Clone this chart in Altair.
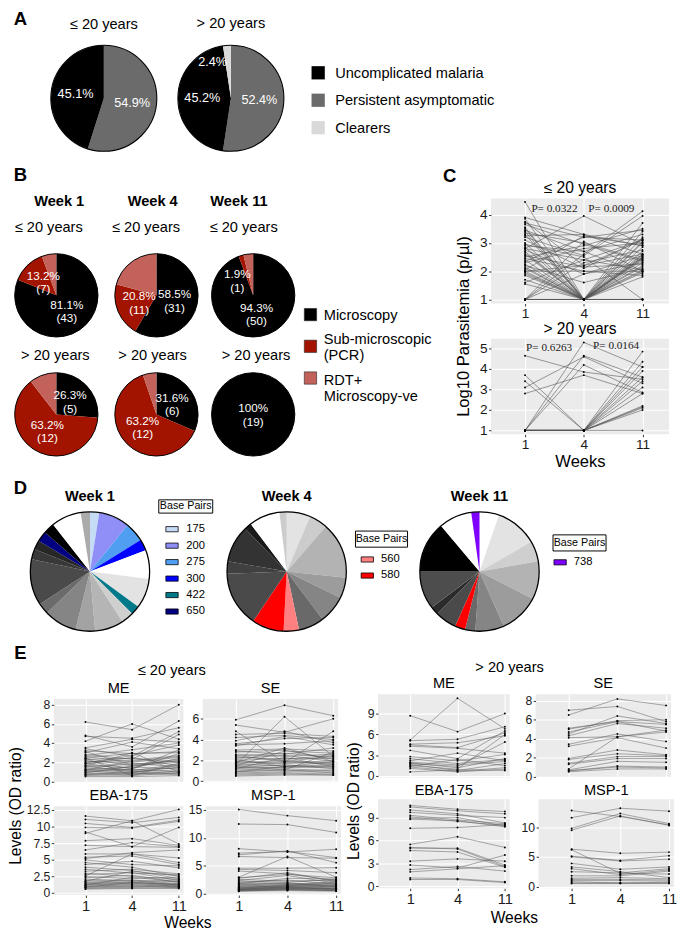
import altair as alt
import pandas as pd

S = 0.972
FONT = "Liberation Sans"
SERIF = "Liberation Serif"


def s(v):
    return round(v * S, 2)


# ======================= DATA =======================
# ---- Panel A (slices listed clockwise from 12 o'clock) ----
A_slice_cats = ["Persistent asymptomatic", "Uncomplicated malaria", "Clearers"]
A_slice_colors = ["#6b6b6b", "#000000", "#d9d9d9"]
A_le20_pct = [54.9, 45.1, 0.0]
A_gt20_pct = [52.4, 45.2, 2.4]
A_legend_items = ["Uncomplicated malaria", "Persistent asymptomatic", "Clearers"]
A_legend_colors = ["#000000", "#6b6b6b", "#d9d9d9"]

# ---- Panel B ----
B_cats = ["Microscopy", "Sub-microscopic (PCR)", "RDT+ Microscopy-ve"]
B_legend_labels = ["Microscopy", "Sub-microscopic\n(PCR)", "RDT+\nMicroscopy-ve"]
B_colors = ["#000000", "#a31400", "#c2625a"]
B_weeks = ["Week 1", "Week 4", "Week 11"]
B_le20_counts = [[43, 7, 3], [31, 11, 11], [50, 1, 2]]
B_gt20_counts = [[5, 12, 2], [6, 12, 1], [19, 0, 0]]

# ---- Panel C: Log10 parasitemia (week 1, week 4, week 11) per participant ----
C_le20 = [(4.45, 1.0, 2.5), (3.9, 3.3, 2.9), (3.75, 2.2, 3.1), (3.7, 3.2, 3.45), (3.5, 1.0, 3.0),
          (3.45, 2.7, 1.9), (3.35, 3.0, 2.4), (3.3, 1.0, 2.6), (3.2, 2.55, 3.95), (3.1, 2.1, 3.15),
          (2.85, 1.0, 2.55), (2.8, 3.95, 2.95), (2.8, 2.4, 2.05), (2.75, 1.9, 2.3), (2.6, 1.0, 2.0),
          (2.5, 2.9, 3.5), (2.45, 2.0, 1.85), (2.4, 1.0, 2.45), (2.3, 2.8, 3.0), (2.2, 1.6, 2.1),
          (2.1, 1.0, 2.5), (2.05, 3.25, 2.9), (2.0, 1.0, 1.8), (2.0, 2.2, 2.6), (1.9, 1.0, 3.7),
          (1.6, 2.4, 3.1), (1.55, 1.0, 2.2), (1.0, 3.05, 2.0), (1.0, 2.6, 4.12), (1.0, 1.0, 3.2),
          (1.0, 1.9, 2.55), (1.0, 1.0, 1.0), (3.85, 1.0, 1.0), (3.65, 2.95, 2.35), (3.0, 1.0, 2.7),
          (2.65, 1.0, 1.95), (2.35, 3.2, 3.1), (2.15, 1.0, 1.0), (1.85, 1.0, 2.4), (2.55, 2.15, 2.25),
          (3.55, 1.0, 3.4), (2.95, 2.5, 1.0), (2.25, 1.0, 2.85), (1.7, 1.0, 2.05), (1.0, 1.0, 2.3),
          (3.25, 3.3, 2.6), (2.7, 1.0, 3.05), (2.0, 2.0, 2.0), (1.0, 2.3, 2.75), (3.4, 1.0, 2.15),
          (2.9, 2.7, 3.3), (1.95, 1.0, 1.0), (1.0, 1.0, 2.45)]
C_gt20 = [(4.65, 3.85, 3.5), (3.7, 1.0, 2.8), (3.4, 1.0, 3.4), (3.1, 4.6, 3.3), (2.8, 3.7, 2.8),
          (1.0, 5.3, 4.1), (1.0, 4.65, 3.6), (1.0, 4.2, 2.85), (1.0, 1.0, 4.85), (1.0, 1.0, 4.35),
          (1.0, 1.0, 4.1), (1.0, 1.0, 3.9), (1.0, 1.0, 3.1), (1.0, 1.0, 2.2), (1.0, 1.0, 2.15),
          (1.0, 1.0, 2.1), (1.0, 1.0, 2.0), (1.0, 1.0, 3.6), (1.0, 1.0, 1.0)]
C_le20_pvalues = [(0.5, 4.21, "P= 0.0322"), (1.47, 4.19, "P= 0.0009")]
C_gt20_pvalues = [(0.41, 5.0, "P= 0.6263"), (1.55, 5.1, "P= 0.0164")]
C_le20_yticks = [1, 2, 3, 4]
C_gt20_yticks = [1, 2, 3, 4, 5]

# ---- Panel D: allele fractions (degrees, clockwise from 12 o'clock) ----
D_w1_cats = ["175", "200", "275", "300", "a1", "a2", "422", "a3", "a4", "a5", "a6", "a7", "a8",
             "a9", "a10", "650", "a11", "a12", "a13"]
D_w1_deg = [9, 30, 19, 11, 28, 29, 9, 12, 28, 19, 32, 11, 45, 10, 9, 10, 11, 29, 9]
D_w1_colors = ["#c6dbf5", "#8f8ff7", "#4f9ef2", "#0000ff", "#ffffff", "#e3e3e3", "#007a8a", "#cfcfcf",
               "#b5b5b5", "#a3a3a3", "#858585", "#6b6b6b", "#4a4a4a", "#383838", "#262626", "#000080",
               "#000000", "#ffffff", "#ababab"]
D_w4_cats = ["b1", "b2", "b3", "b4", "b5", "b6", "560", "580", "b7", "b8", "b9", "b10", "b11", "b12"]
D_w4_deg = [23, 18, 55, 20, 27, 25, 15, 31, 54, 12, 36, 7, 30, 7]
D_w4_colors = ["#e3e3e3", "#cccccc", "#b3b3b3", "#9c9c9c", "#858585", "#696969", "#ff8080", "#ff0000",
               "#4a4a4a", "#404040", "#333333", "#1a1a1a", "#ffffff", "#cccccc"]
D_w11_cats = ["c1", "c2", "c3", "c4", "c5", "c6", "c7", "580", "c8", "c9", "c10", "c11", "c12", "738"]
D_w11_deg = [19, 41, 20, 37, 39, 28, 10, 10, 21, 8, 37, 50, 32, 8]
D_w11_colors = ["#ffffff", "#e3e3e3", "#cfcfcf", "#b3b3b3", "#9c9c9c", "#858585", "#696969", "#ff0000",
                "#4a4a4a", "#2b2b2b", "#4d4d4d", "#000000", "#ffffff", "#7f00ff"]
D_leg1_items = ["175", "200", "275", "300", "422", "650"]
D_leg1_colors = ["#c6dbf5", "#8f8ff7", "#4f9ef2", "#0000ff", "#007a8a", "#000080"]
D_leg4_items = ["560", "580"]
D_leg4_colors = ["#ff8080", "#ff0000"]
D_leg11_items = ["738"]
D_leg11_colors = ["#7f00ff"]

# ---- Panel E: antibody levels (OD ratio) at weeks 1, 4, 11 ----
E_ME_le20 = [(6.2, 5.4, 8.0), (4.8, 3.6, 6.3), (4.7, 4.5, 5.6), (4.2, 6.0, 4.4), (3.5, 4.4, 4.1),
             (3.4, 2.6, 5.2), (3.2, 2.9, 3.0), (3.0, 4.1, 3.4), (2.8, 2.3, 4.9), (2.6, 2.0, 2.5),
             (2.5, 2.9, 3.1), (2.4, 1.6, 2.2), (2.3, 2.4, 2.0), (2.2, 1.3, 2.9), (2.1, 1.9, 1.5),
             (2.0, 2.2, 2.7), (1.9, 1.1, 1.8), (1.8, 2.5, 1.6), (1.7, 1.4, 2.4), (1.6, 1.0, 1.2),
             (1.5, 1.8, 2.1), (1.4, 1.2, 1.0), (1.3, 0.9, 1.7), (1.2, 1.5, 1.3), (1.1, 0.8, 0.9),
             (1.0, 1.2, 1.4), (0.9, 0.7, 1.1), (0.8, 1.0, 0.8), (0.7, 0.6, 0.9), (0.6, 0.8, 0.7),
             (0.5, 0.5, 0.6), (2.7, 3.3, 4.0), (1.9, 2.7, 3.8), (1.2, 2.1, 2.6), (0.9, 1.6, 2.0),
             (2.4, 0.6, 1.9), (3.1, 1.7, 2.3), (1.6, 3.0, 1.0), (1.1, 1.3, 3.3), (0.7, 0.9, 1.5)]
E_SE_le20 = [(5.9, 7.3, 6.3), (5.4, 4.7, 6.0), (4.8, 1.8, 4.8), (4.5, 4.6, 4.3), (4.2, 4.4, 4.0),
             (3.9, 4.8, 3.7), (3.6, 4.1, 4.2), (3.5, 3.6, 3.9), (3.4, 4.3, 3.5), (3.0, 3.1, 2.9),
             (2.9, 2.6, 3.2), (2.8, 3.0, 2.1), (2.6, 2.4, 2.6), (2.4, 2.7, 2.3), (2.3, 2.1, 2.5),
             (2.2, 2.5, 1.9), (2.0, 2.2, 2.2), (1.9, 1.7, 2.0), (1.8, 2.0, 1.6), (1.7, 1.9, 1.8),
             (1.6, 6.2, 2.4), (1.6, 1.5, 1.4), (1.5, 1.8, 1.7), (1.4, 1.3, 1.5), (1.3, 1.6, 1.2),
             (1.2, 1.4, 1.3), (1.1, 1.2, 1.0), (1.0, 1.0, 1.1), (0.9, 1.1, 0.8), (0.8, 0.9, 0.9),
             (0.7, 0.8, 0.7), (0.6, 0.7, 0.6), (0.5, 0.6, 0.6), (1.5, 2.9, 2.7), (1.8, 3.2, 1.9),
             (2.1, 1.4, 1.6), (1.2, 2.3, 1.4), (0.9, 1.4, 1.9), (1.4, 1.1, 2.8), (2.5, 1.9, 2.4)]
E_EBA_le20 = [(11.6, 10.9, 12.6), (11.1, 10.6, 11.4), (10.5, 9.9, 11.0), (9.9, 9.8, 10.8), (9.2, 7.0, 9.9),
              (9.0, 10.9, 7.4), (7.9, 8.2, 7.2), (7.2, 7.0, 6.9), (6.5, 7.6, 7.0), (5.9, 5.9, 4.6),
              (5.4, 5.6, 4.3), (5.2, 6.1, 6.5), (5.0, 4.3, 4.1), (4.6, 3.9, 2.5), (4.3, 4.8, 3.8),
              (3.9, 3.4, 2.2), (3.6, 3.0, 2.8), (3.3, 3.6, 2.9), (3.0, 2.5, 2.1), (2.8, 3.1, 1.9),
              (2.5, 2.2, 2.4), (2.3, 2.7, 1.6), (2.1, 1.8, 2.0), (1.9, 2.0, 1.4), (1.7, 1.6, 1.8),
              (1.6, 1.9, 1.2), (1.5, 1.4, 1.5), (1.4, 1.7, 1.1), (1.3, 1.2, 1.3), (1.2, 1.5, 1.0),
              (1.1, 1.0, 1.2), (1.0, 1.3, 0.9), (0.9, 1.1, 0.8), (0.8, 0.9, 1.0), (0.7, 0.8, 0.7),
              (0.6, 0.7, 0.8), (2.6, 5.9, 5.3), (1.8, 3.3, 2.6), (1.2, 2.4, 1.7), (0.9, 1.6, 1.3)]
E_MSP_le20 = [(15.1, 14.0, 13.1), (12.5, 12.4, 11.0), (8.1, 7.5, 8.0), (7.3, 7.6, 6.5), (7.0, 7.7, 5.6),
              (6.7, 6.5, 6.4), (4.6, 4.6, 4.7), (4.4, 4.2, 3.8), (4.1, 3.6, 2.4), (3.0, 6.7, 3.0),
              (2.9, 3.5, 2.9), (2.8, 3.8, 2.2), (2.6, 2.3, 2.5), (2.4, 3.3, 1.9), (2.3, 2.1, 2.6),
              (2.1, 2.5, 1.7), (2.0, 1.8, 2.1), (1.9, 2.0, 1.5), (1.7, 1.6, 1.8), (1.6, 1.9, 1.3),
              (1.5, 1.4, 1.6), (1.4, 1.7, 1.2), (1.3, 1.2, 1.4), (1.2, 1.5, 1.0), (1.1, 1.1, 1.3),
              (1.0, 1.3, 0.9), (0.9, 1.0, 1.1), (0.9, 1.2, 0.8), (0.8, 0.9, 1.0), (0.8, 1.1, 0.9),
              (0.7, 0.8, 0.7), (0.7, 1.0, 0.8), (0.6, 0.7, 0.6), (0.6, 0.9, 0.7), (0.5, 0.6, 0.5),
              (0.5, 0.8, 0.6), (1.8, 2.8, 2.7), (1.2, 1.4, 2.3), (1.0, 1.6, 1.9), (0.8, 1.3, 1.6)]
E_ME_gt20 = [(8.7, 6.4, 9.0), (5.2, 11.2, 6.8), (5.1, 5.3, 7.1), (4.6, 4.8, 5.8), (4.5, 4.1, 6.2),
             (4.3, 4.0, 3.3), (3.7, 2.5, 6.5), (2.8, 2.2, 3.1), (2.5, 1.8, 2.4), (2.2, 3.3, 2.2),
             (1.9, 1.2, 2.5), (1.7, 0.8, 1.8), (1.5, 1.0, 6.0), (1.4, 2.4, 1.5), (1.3, 0.7, 1.2),
             (1.1, 0.6, 1.0), (0.6, 0.9, 0.8), (1.8, 1.4, 4.9), (2.0, 1.6, 2.1)]
E_SE_gt20 = [(7.0, 7.4, 5.8), (6.5, 8.2, 7.5), (5.1, 5.8, 5.5), (5.0, 5.9, 6.0), (4.7, 5.8, 4.8),
             (4.5, 6.4, 5.6), (4.3, 5.6, 5.1), (4.1, 4.2, 4.7), (3.4, 4.5, 3.7), (3.2, 4.1, 3.0),
             (1.9, 2.8, 2.3), (1.8, 2.4, 2.2), (1.4, 2.1, 2.1), (1.3, 1.9, 1.9), (0.8, 4.2, 4.9),
             (0.7, 1.6, 1.5), (0.6, 1.1, 1.0), (0.6, 1.0, 0.9), (0.5, 0.8, 0.8)]
E_EBA_gt20 = [(10.6, 10.1, 9.8), (10.4, 9.9, 9.5), (10.0, 9.5, 8.3), (9.7, 9.3, 9.0), (9.3, 8.7, 8.2),
              (9.1, 8.5, 8.0), (8.9, 9.0, 7.9), (8.8, 8.6, 7.8), (7.6, 7.7, 8.1), (5.5, 6.5, 5.1),
              (5.1, 4.9, 2.6), (5.0, 5.0, 2.8), (4.7, 4.5, 2.5), (3.3, 3.6, 3.3), (2.8, 2.4, 4.1),
              (2.2, 2.6, 2.0), (1.9, 2.3, 2.7), (1.1, 1.0, 0.6), (0.9, 0.9, 0.5)]
E_MSP_gt20 = [(12.8, 11.8, 10.4), (11.6, 13.2, 12.7), (9.8, 12.3, 10.6), (9.5, 11.9, 10.3), (6.3, 5.6, 5.8),
              (6.2, 2.2, 2.1), (5.1, 4.4, 5.2), (5.0, 4.3, 4.6), (3.9, 2.9, 3.3), (3.3, 2.5, 1.5),
              (3.0, 2.0, 2.8), (2.5, 2.3, 3.0), (1.8, 1.8, 2.6), (1.4, 1.5, 1.3), (1.2, 1.2, 1.1),
              (1.0, 1.0, 0.9), (0.8, 0.6, 0.7), (0.6, 0.6, 0.6), (0.5, 0.5, 0.5)]

WEEK_EXPR = "datum.value == 0 ? '1' : (datum.value == 1 ? '4' : '11')"
NUM_EXPR = "'' + datum.value"

RES = dict(color="independent", theta="independent", x="independent", y="independent")


def HC(*charts, **kw):
    return alt.hconcat(*charts, **kw).resolve_scale(**RES)


def VC(*charts, **kw):
    return alt.vconcat(*charts, **kw).resolve_scale(**RES)


# ======================= HELPERS =======================
def frame(w, h):
    # invisible rectangle covering the whole view so the view keeps its full size in layout
    return alt.Chart(pd.DataFrame({"f": [0]})).mark_rect(opacity=0).encode(
        x=alt.value(0), x2=alt.value(s(w)), y=alt.value(0), y2=alt.value(s(h)))


def text_at(txt, w, h, cx=None, cy=None, size=15, weight="normal", angle=0, font=FONT):
    cx = w / 2 if cx is None else cx
    cy = h / 2 if cy is None else cy
    mk = dict(fontSize=size, fontWeight=weight, font=font, color="black", align="center", baseline="middle")
    if angle:
        mk["angle"] = angle
    dx, dy = s(cx - w / 2), s(cy - h / 2)
    if dx:
        mk["dx"] = dx
    if dy:
        mk["dy"] = dy
    t = alt.Chart(pd.DataFrame({"t": [txt]})).mark_text(**mk).encode(text="t:N")
    return alt.layer(frame(w, h), t).properties(width=s(w), height=s(h))


def spacer(w, h):
    return frame(w, h).properties(width=s(w), height=s(h))


def pie(cats, vals, colors, r, w, h, labels=None, lab_frac=0.55, main_dy=0, small_dx=0, small_dy=0,
        lab_size=12, ring=1.1):
    n = len(cats)
    total = float(sum(vals))
    labels = labels or [""] * n
    main, small = [], []
    for v, lab in zip(vals, labels):
        if lab and 100.0 * v / total < 3:
            main.append("")
            small.append(lab)
        else:
            main.append(lab)
            small.append("")
    df = pd.DataFrame({"cat": cats, "v": vals, "o": list(range(n)), "main": main, "small": small})
    df = df[df["v"] > 0].reset_index(drop=True)
    rr = 0 if len(df) == 1 else s(r * lab_frac)
    base = alt.Chart(df).encode(theta=alt.Theta("v:Q", stack=True), order=alt.Order("o:Q"))
    layers = [frame(w, h), base.mark_arc(outerRadius=s(r)).encode(
        color=alt.Color("cat:N", scale=alt.Scale(domain=cats, range=colors), legend=None))]
    if any(df["main"]):
        mk = dict(radius=rr, color="white", fontSize=lab_size, font=FONT, lineBreak="\n")
        if main_dy:
            mk["dy"] = s(main_dy)
        layers.append(base.mark_text(**mk).encode(text="main:N"))
    if any(df["small"]):
        layers.append(base.mark_text(radius=rr, dx=s(small_dx), dy=s(small_dy), color="white",
                                     fontSize=lab_size, font=FONT, lineBreak="\n").encode(text="small:N"))
    layers.append(alt.Chart(pd.DataFrame({"v": [total]})).mark_arc(
        outerRadius=s(r), fillOpacity=0, stroke="black", strokeWidth=ring).encode(
        theta=alt.Theta("v:Q", stack=True)))
    return alt.layer(*layers).properties(width=s(w), height=s(h))


def legend_simple(items, labels, colors, w, h, y_range, sym_x, text_x, side, fsize, stroke=False,
                  dys=None):
    dys = dys or [0] * len(items)
    df = pd.DataFrame({"item": items, "label": labels, "g": dys})
    y = alt.Y("item:N", sort=items, axis=None,
              scale=alt.Scale(type="point", range=[s(v) for v in y_range], padding=0))
    col = alt.Color("item:N", scale=alt.Scale(domain=items, range=colors), legend=None)
    mk = dict(size=(side * S) ** 2, opacity=1)
    if stroke:
        mk.update(stroke="#222222", strokeWidth=0.6)
    layers = [frame(w, h), alt.Chart(df).mark_square(**mk).encode(x=alt.value(s(sym_x)), y=y, color=col)]
    for d in sorted(set(dys)):
        tmk = dict(align="left", baseline="middle", fontSize=fsize, font=FONT, lineBreak="\n")
        if d:
            tmk["dy"] = s(d)
        layers.append(alt.Chart(df).transform_filter(alt.datum.g == d).mark_text(**tmk).encode(
            x=alt.value(s(text_x)), y=y, text="label:N"))
    return alt.layer(*layers).properties(width=s(w), height=s(h))


def legend_bp(items, colors, w, h, box, y_range, sym_x, text_x):
    x1, x2, y1, y2 = box
    bdf = pd.DataFrame({"t": ["Base Pairs"]})
    rect = alt.Chart(bdf).mark_rect(fill="white", stroke="black", strokeWidth=1).encode(
        x=alt.value(s(x1)), x2=alt.value(s(x2)), y=alt.value(s(y1)), y2=alt.value(s(y2)))
    ttl = alt.Chart(bdf).mark_text(fontSize=11, font=FONT).encode(
        x=alt.value(s((x1 + x2) / 2)), y=alt.value(s((y1 + y2) / 2)), text="t:N")
    df = pd.DataFrame({"item": items})
    y = alt.Y("item:N", sort=items, axis=None,
              scale=alt.Scale(type="point", range=[s(v) for v in y_range], padding=0))
    col = alt.Color("item:N", scale=alt.Scale(domain=items, range=colors), legend=None)
    sym = alt.Chart(df).mark_point(shape="M-1,-0.42L1,-0.42L1,0.42L-1,0.42Z", size=(13 * S) ** 2,
                                   filled=True, opacity=1, stroke="black", strokeWidth=0.8).encode(
        x=alt.value(s(sym_x)), y=y, color=col)
    lab = alt.Chart(df).mark_text(align="left", baseline="middle", fontSize=11.5, font=FONT).encode(
        x=alt.value(s(text_x)), y=y, text="item:N")
    return alt.layer(frame(w, h), rect, ttl, sym, lab).properties(width=s(w), height=s(h))


def long_df(rows):
    recs = []
    for i, trip in enumerate(rows):
        for k, v in enumerate(trip):
            recs.append({"id": i, "wk": k, "val": v})
    return pd.DataFrame(recs)


AX = dict(domain=False, gridColor="white", gridWidth=1.1, tickColor="#333333", labelColor="#1a1a1a")


def line_panel(rows, ydom, yvals, xdom, w, h, title, show_x, xtitle, lab_x, lab_y, min_ext=0,
               title_size=15, title_off=3, ptexts=(), line_w=0.6):
    df = long_df(rows)
    xa = dict(AX, values=[0, 1, 2], labelExpr=WEEK_EXPR, labelFontSize=lab_x, tickSize=2.5,
              labelPadding=1, labels=show_x, ticks=show_x)
    if xtitle:
        xa.update(title=xtitle, titleFontSize=17, titleFontWeight="normal", titlePadding=3)
    else:
        xa.update(title=None)
    ya = dict(AX, values=yvals, labelExpr=NUM_EXPR, labelFontSize=lab_y, tickSize=2.5, labelPadding=1.5,
              title=None, labelOverlap=False)
    if min_ext:
        ya.update(minExtent=min_ext)
    x = alt.X("wk:Q", scale=alt.Scale(domain=xdom, nice=False, zero=False), axis=alt.Axis(**xa))
    y = alt.Y("val:Q", scale=alt.Scale(domain=ydom, nice=False, zero=False), axis=alt.Axis(**ya))
    layers = [
        alt.Chart(df).mark_line(color="#555555", strokeWidth=line_w).encode(x=x, y=y, detail="id:N"),
        alt.Chart(df).mark_point(filled=True, color="black", size=4, opacity=1).encode(x=x, y=y),
    ]
    if ptexts:
        pdf = pd.DataFrame({"wk": [p[0] for p in ptexts], "val": [p[1] for p in ptexts],
                            "t": [p[2] for p in ptexts]})
        layers.append(alt.Chart(pdf).mark_text(font=SERIF, fontSize=11.5, color="#222222").encode(
            x=x, y=y, text="t:N"))
    return alt.layer(*layers).properties(
        width=s(w), height=s(h),
        title=alt.Title(title, fontSize=title_size, fontWeight="normal", font=FONT, offset=title_off,
                        frame="group"),
        view=alt.ViewBackground(fill="#ebebeb"))


# ======================= ROW A =======================
letterA = text_at("A", 40, 168, 11, 17, size=19, weight="bold")
colA1 = VC(
    text_at("≤ 20 years", 114, 32, 57, 23),
    pie(A_slice_cats, A_le20_pct, A_slice_colors, 56, 114, 136,
        labels=["54.9%", "45.1%", ""], lab_frac=0.54, lab_size=13))
colA2 = VC(
    text_at("> 20 years", 150, 32, 75, 22),
    pie(A_slice_cats, A_gt20_pct, A_slice_colors, 56, 150, 136,
        labels=["52.4%", "45.2%", "2.4%"], lab_frac=0.54, small_dx=-17, small_dy=-8, lab_size=13))
legA = legend_simple(A_legend_items, A_legend_items, A_legend_colors, 381, 168, [74, 132], 17, 35, 14, 15)
rowA = HC(letterA, colA1, colA2, legA)

# ======================= ROW B / C =======================
B_col_w = [98, 112, 88]
B_week_cx = [52, 52, 29]
B_le_cx = [41, 45, 34]
B_gt_cx = [48, 52, 47]


def b_labels(counts):
    tot = sum(counts)
    out = []
    for k, c in enumerate(counts):
        if k < 2 and c > 0:
            p = 100.0 * c / tot
            ptxt = "100%" if abs(p - 100) < 1e-9 else f"{p:.1f}%"
            out.append(f"{ptxt}\n({c})")
        else:
            out.append("")
    return out


b_cols = []
for k in range(3):
    w = B_col_w[k]
    b_cols.append(VC(
        text_at(B_weeks[k], w, 27, B_week_cx[k], 14, size=15, weight="bold"),
        text_at("≤ 20 years", w, 30, B_le_cx[k], 14),
        pie(B_cats, B_le20_counts[k], B_colors, 44, w, 110, labels=b_labels(B_le20_counts[k]),
            lab_frac=0.45, main_dy=-6.5, small_dx=-11, small_dy=-3, lab_size=12, ring=1.0),
        text_at("> 20 years", w, 22, B_gt_cx[k], 7),
        pie(B_cats, B_gt20_counts[k], B_colors, 44, w, 92, labels=b_labels(B_gt20_counts[k]),
            lab_frac=0.45, main_dy=-6.5, lab_size=12, ring=1.0),
    ))
legB = legend_simple(B_cats, B_legend_labels, B_colors, 142, 279, [134, 201], 14, 28, 13, 15, stroke=True,
                     dys=[1, -8, 2])
panelB = VC(text_at("B", 440, 25, 11, 12, size=19, weight="bold"),
            HC(*b_cols, legB),
            spacer(440, 21))

C_xdom = [-0.58, 2.45]
plotC1 = line_panel(C_le20, [0.857, 4.57], C_le20_yticks, C_xdom, 188, 111, "≤ 20 years", True, None,
                    14, 14, title_size=16, title_off=3, ptexts=C_le20_pvalues, line_w=0.6)
plotC2 = line_panel(C_gt20, [0.81, 5.48], C_gt20_yticks, C_xdom, 188, 101, "> 20 years", True, "Weeks",
                    14, 14, title_size=16, title_off=2, ptexts=C_gt20_pvalues, line_w=0.6)
colC0 = VC(text_at("C", 49, 30, 18, 13, size=19, weight="bold"),
           text_at("Log10 Parasitemia (p/µl)", 49, 280, 23, 149, size=17, angle=270))
colC1 = VC(spacer(188, 17), plotC1, plotC2)
panelC = HC(colC0, colC1)
rowBC = HC(panelB, panelC)

# ======================= ROW D =======================
letterD = text_at("D", 17, 30, 11, 7, size=19, weight="bold")


def d_col(title, cats, deg, colors):
    return VC(text_at(title, 130, 28, 65, 15, size=15, weight="bold"),
              pie(cats, deg, colors, 63, 130, 130, ring=1.3))


rowD = HC(
    letterD,
    d_col("Week 1", D_w1_cats, D_w1_deg, D_w1_colors),
    legend_bp(D_leg1_items, D_leg1_colors, 75, 170, (6, 63, 19, 33), [50, 137], 20, 35),
    d_col("Week 4", D_w4_cats, D_w4_deg, D_w4_colors),
    legend_bp(D_leg4_items, D_leg4_colors, 70, 170, (6, 61, 52, 69), [82, 99], 18.5, 33),
    d_col("Week 11", D_w11_cats, D_w11_deg, D_w11_colors),
    legend_bp(D_leg11_items, D_leg11_colors, 133, 170, (11, 67, 56, 73), [85, 85], 18.5, 33),
)

# ======================= ROW E =======================
E_xdom = [-0.68, 2.1]


def e_plot(rows, ydom, yvals, w, h, title, show_x, min_ext, toff):
    return line_panel(rows, ydom, yvals, E_xdom, w, h, title, show_x, None, 15, 12.5,
                      min_ext=min_ext, title_size=15, title_off=toff, line_w=0.5)


gridL = VC(
    HC(e_plot(E_ME_le20, [-0.1, 8.6], [0, 2, 4, 6, 8], 137, 88, "ME", False, 30, 3),
       e_plot(E_SE_le20, [-0.1, 7.9], [0, 2, 4, 6], 143, 88, "SE", False, 19, 3)),
    HC(e_plot(E_EBA_le20, [-0.3, 13.1], [0, 2.5, 5, 7.5, 10, 12.5], 137, 94, "EBA-175", True, 30, 1),
       e_plot(E_MSP_le20, [-0.2, 15.7], [0, 5, 10, 15], 143, 94, "MSP-1", True, 19, 1)))
gridR = VC(
    HC(e_plot(E_ME_gt20, [-0.2, 11.8], [0, 3, 6, 9], 139, 88, "ME", False, 13, 3),
       e_plot(E_SE_gt20, [-0.1, 8.7], [0, 2, 4, 6, 8], 143, 88, "SE", False, 19, 3),
       spacing=s(7)),
    HC(e_plot(E_EBA_gt20, [-0.25, 11.4], [0, 3, 6, 9], 139, 94, "EBA-175", True, 13, 1),
       e_plot(E_MSP_gt20, [-0.3, 14.7], [0, 5, 10], 143, 94, "MSP-1", True, 19, 1),
       spacing=s(7)))

halfL = VC(
    text_at("E", 345, 12, 11, 6, size=19, weight="bold"),
    text_at("≤ 20 years", 345, 18, 171, 8),
    HC(text_at("Levels (OD ratio)", 14, 226, size=16, angle=270), gridL),
    text_at("Weeks", 345, 20, 188, 10, size=16))
halfR = VC(
    spacer(340, 12),
    text_at("> 20 years", 340, 18, 175, 8),
    HC(text_at("Levels (OD ratio)", 22, 226, size=16, angle=270), gridR),
    text_at("Weeks", 340, 20, 180, 10, size=16))
rowE = HC(halfL, halfR)

chart = (VC(rowA, rowBC, rowD, rowE)
         .properties(padding={"top": -18, "left": 0, "right": 0, "bottom": 0})
         .configure(font=FONT)
         .configure_view(stroke=None)
         .configure_concat(spacing=0)
         .configure_axis(labelFont=FONT, titleFont=FONT)
         .configure_title(font=FONT))

chart.save("out.html", embed_options={"renderer": "svg", "actions": False})
